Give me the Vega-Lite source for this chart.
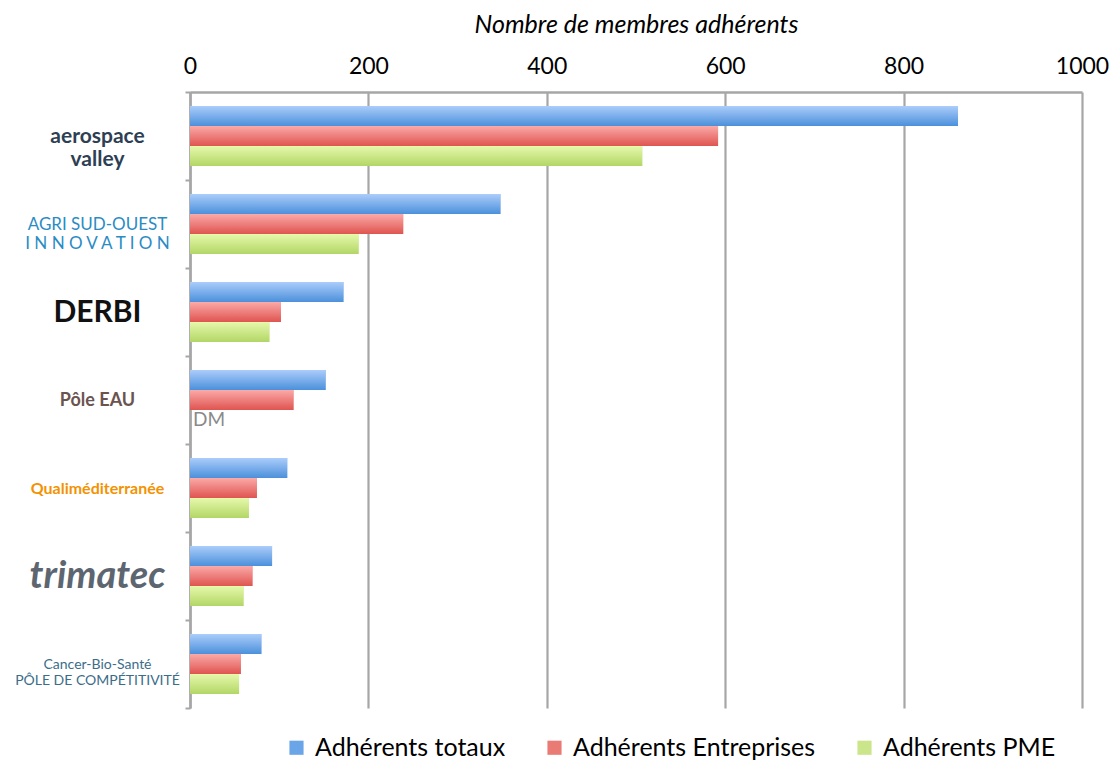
{
  "$schema": "https://vega.github.io/schema/vega-lite/v6.json",
  "autosize": {"type": "none"},
  "padding": {"left": 190, "top": 92, "right": 29, "bottom": 52},
  "width": 892,
  "height": 616,
  "background": "white",
  "config": {"font": "Lato", "view": {"stroke": null}},
  "data": {
    "values": [
      {"pole": "Aerospace Valley", "series": "Adhérents totaux", "value": 861},
      {"pole": "Aerospace Valley", "series": "Adhérents Entreprises", "value": 592},
      {"pole": "Aerospace Valley", "series": "Adhérents PME", "value": 507},
      {"pole": "Agri Sud-Ouest Innovation", "series": "Adhérents totaux", "value": 348},
      {"pole": "Agri Sud-Ouest Innovation", "series": "Adhérents Entreprises", "value": 239},
      {"pole": "Agri Sud-Ouest Innovation", "series": "Adhérents PME", "value": 189},
      {"pole": "DERBI", "series": "Adhérents totaux", "value": 172},
      {"pole": "DERBI", "series": "Adhérents Entreprises", "value": 102},
      {"pole": "DERBI", "series": "Adhérents PME", "value": 89},
      {"pole": "Pôle EAU", "series": "Adhérents totaux", "value": 152},
      {"pole": "Pôle EAU", "series": "Adhérents Entreprises", "value": 116},
      {"pole": "Pôle EAU", "series": "Adhérents PME", "value": null, "note": "DM"},
      {"pole": "Qualiméditerranée", "series": "Adhérents totaux", "value": 109},
      {"pole": "Qualiméditerranée", "series": "Adhérents Entreprises", "value": 75},
      {"pole": "Qualiméditerranée", "series": "Adhérents PME", "value": 66},
      {"pole": "Trimatec", "series": "Adhérents totaux", "value": 92},
      {"pole": "Trimatec", "series": "Adhérents Entreprises", "value": 70},
      {"pole": "Trimatec", "series": "Adhérents PME", "value": 60},
      {"pole": "Cancer-Bio-Santé", "series": "Adhérents totaux", "value": 80},
      {"pole": "Cancer-Bio-Santé", "series": "Adhérents Entreprises", "value": 57},
      {"pole": "Cancer-Bio-Santé", "series": "Adhérents PME", "value": 55}
    ]
  },
  "encoding": {
    "y": {
      "field": "pole",
      "type": "nominal",
      "sort": ["Aerospace Valley", "Agri Sud-Ouest Innovation", "DERBI", "Pôle EAU", "Qualiméditerranée", "Trimatec", "Cancer-Bio-Santé"],
      "scale": {"paddingInner": 0, "paddingOuter": 0},
      "axis": {
        "title": null,
        "orient": "left",
        "domain": true,
        "domainColor": "#a6a6a6",
        "domainWidth": 2.5,
        "ticks": true,
        "tickBand": "extent",
        "tickSize": 5,
        "tickColor": "#a6a6a6",
        "tickWidth": 2,
        "labelAlign": "center",
        "labelBaseline": "middle",
        "labelPadding": 88,
        "labelLimit": 0,
        "labelExpr": "datum.value == 'Aerospace Valley' ? ['aerospace', 'valley'] : datum.value == 'Agri Sud-Ouest Innovation' ? ['AGRI SUD-OUEST', 'I N N O V A T I O N'] : datum.value == 'Trimatec' ? 'trimatec' : datum.value == 'Cancer-Bio-Santé' ? ['Cancer-Bio-Santé', 'PÔLE DE COMPÉTITIVITÉ'] : datum.value",
        "labelColor": {
          "condition": [
            {"test": "datum.value == 'Aerospace Valley'", "value": "#2e3f54"},
            {"test": "datum.value == 'Agri Sud-Ouest Innovation'", "value": "#2b8cc4"},
            {"test": "datum.value == 'DERBI'", "value": "#111111"},
            {"test": "datum.value == 'Pôle EAU'", "value": "#6b5450"},
            {"test": "datum.value == 'Qualiméditerranée'", "value": "#f39200"},
            {"test": "datum.value == 'Trimatec'", "value": "#5d6670"}
          ],
          "value": "#3b6d8a"
        },
        "labelFontSize": {
          "condition": [
            {"test": "datum.value == 'Aerospace Valley'", "value": 21},
            {"test": "datum.value == 'Agri Sud-Ouest Innovation'", "value": 17},
            {"test": "datum.value == 'DERBI'", "value": 30},
            {"test": "datum.value == 'Pôle EAU'", "value": 18},
            {"test": "datum.value == 'Qualiméditerranée'", "value": 16},
            {"test": "datum.value == 'Trimatec'", "value": 38}
          ],
          "value": 14
        },
        "labelFontWeight": {
          "condition": [
            {"test": "datum.value == 'Agri Sud-Ouest Innovation'", "value": "normal"},
            {"test": "datum.value == 'Cancer-Bio-Santé'", "value": "normal"}
          ],
          "value": "bold"
        },
        "labelFontStyle": {
          "condition": [
            {"test": "datum.value == 'Trimatec'", "value": "italic"}
          ],
          "value": "normal"
        }
      }
    },
    "yOffset": {
      "field": "series",
      "type": "nominal",
      "sort": ["Adhérents totaux", "Adhérents Entreprises", "Adhérents PME"],
      "scale": {"paddingInner": 0, "paddingOuter": 0.7}
    }
  },
  "layer": [
    {
      "mark": {"type": "bar"},
      "encoding": {
        "x": {
          "field": "value",
          "type": "quantitative",
          "scale": {"domain": [0, 1000], "nice": false},
          "axis": {
            "orient": "top",
            "title": "Nombre de membres adhérents",
            "titleFontStyle": "italic",
            "titleFontWeight": "normal",
            "titleFontSize": 25,
            "titleColor": "#000000",
            "titlePadding": 18,
            "labelFontSize": 23,
            "labelColor": "#000000",
            "labelPadding": 14,
            "labelFlush": false,
            "format": "d",
            "ticks": false,
            "values": [0, 200, 400, 600, 800, 1000],
            "grid": true,
            "gridColor": "#a6a6a6",
            "gridWidth": 2.2,
            "domain": true,
            "domainColor": "#a6a6a6",
            "domainWidth": 2.5
          }
        },
        "color": {
          "field": "series",
          "type": "nominal",
          "scale": {
            "domain": ["Adhérents totaux", "Adhérents Entreprises", "Adhérents PME"],
            "range": ["#6aa5e8", "#ea7a74", "#cbe68a"]
          },
          "legend": {
            "orient": "none",
            "legendX": 94,
            "legendY": 643,
            "direction": "horizontal",
            "title": null,
            "symbolType": "square",
            "symbolSize": 200,
            "symbolStrokeWidth": 0,
            "labelFontSize": 25,
            "labelLimit": 0,
            "labelColor": "#000000",
            "labelOffset": 6,
            "columnPadding": 36
          }
        }
      }
    },
    {
      "transform": [{"filter": "datum.series == 'Adhérents totaux'"}],
      "mark": {
        "type": "bar",
        "color": {"gradient": "linear", "x1": 0, "y1": 0, "x2": 0, "y2": 1,
          "stops": [{"offset": 0, "color": "#abcdfb"}, {"offset": 1, "color": "#4b90db"}]}
      },
      "encoding": {"x": {"field": "value", "type": "quantitative"}}
    },
    {
      "transform": [{"filter": "datum.series == 'Adhérents Entreprises'"}],
      "mark": {
        "type": "bar",
        "color": {"gradient": "linear", "x1": 0, "y1": 0, "x2": 0, "y2": 1,
          "stops": [{"offset": 0, "color": "#fbaaa8"}, {"offset": 1, "color": "#df5450"}]}
      },
      "encoding": {"x": {"field": "value", "type": "quantitative"}}
    },
    {
      "transform": [{"filter": "datum.series == 'Adhérents PME'"}],
      "mark": {
        "type": "bar",
        "color": {"gradient": "linear", "x1": 0, "y1": 0, "x2": 0, "y2": 1,
          "stops": [{"offset": 0, "color": "#e6f9ab"}, {"offset": 1, "color": "#b2d666"}]}
      },
      "encoding": {"x": {"field": "value", "type": "quantitative"}}
    },
    {
      "transform": [{"filter": "datum.note == 'DM'"}],
      "mark": {"type": "text", "align": "left", "baseline": "middle", "dx": 3, "fontSize": 19, "color": "#8a8a8a"},
      "encoding": {
        "x": {"datum": 0, "type": "quantitative"},
        "text": {"field": "note", "type": "nominal"}
      }
    }
  ]
}
